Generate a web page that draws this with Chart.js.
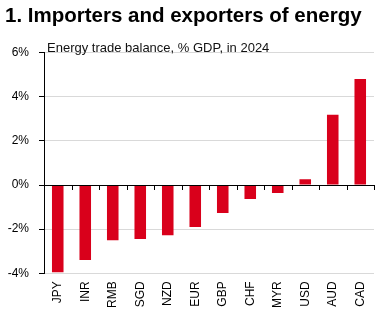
<!DOCTYPE html>
<html>
<head>
<meta charset="UTF-8">
<title>Importers and exporters of energy</title>
<script src="https://cdn.jsdelivr.net/npm/chart.js"></script>
<style>
  html, body { margin: 0; padding: 0; background: #fff; }
  #wrap { width: 388px; height: 325px; }
</style>
</head>
<body>
<div id="wrap"><canvas id="energyChart" width="388" height="325"></canvas></div>
<script>
// data
var currencies = ['JPY', 'INR', 'RMB', 'SGD', 'NZD', 'EUR', 'GBP', 'CHF', 'MYR', 'USD', 'AUD', 'CAD'];
var tradeBalance = [-3.95, -3.4, -2.5, -2.45, -2.27, -1.9, -1.27, -0.63, -0.36, 0.26, 3.18, 4.8];
var yTicks = [-4, -2, 0, 2, 4, 6];

var FONT = "Arial, 'Liberation Sans', sans-serif";

// zero line + small tick marks between categories, and the subtitle inside the plot
var axisExtras = {
    id: 'axisExtras',
    afterDraw: function(chart) {
        var ctx = chart.ctx;
        var area = chart.chartArea;
        var x = chart.scales.x;
        var y0 = Math.round(chart.scales.y.getPixelForValue(0));
        var step = x.getPixelForValue(1) - x.getPixelForValue(0);
        ctx.save();
        ctx.strokeStyle = '#000';
        ctx.lineWidth = 1;
        ctx.beginPath();
        ctx.moveTo(area.left, y0 + 0.5);
        ctx.lineTo(area.right, y0 + 0.5);
        for (var i = 0; i < currencies.length; i++) {
            var px = Math.round(x.getPixelForValue(i) + step / 2) + 0.5;
            ctx.moveTo(px, y0);
            ctx.lineTo(px, y0 + 5);
        }
        ctx.stroke();

        ctx.fillStyle = '#111';
        ctx.font = '13px ' + FONT;
        ctx.textBaseline = 'alphabetic';
        ctx.textAlign = 'left';
        ctx.fillText('Energy trade balance, % GDP, in 2024', area.left + 3, area.top - 1);
        ctx.restore();
    }
};

var ctx = document.getElementById('energyChart').getContext('2d');
new Chart(ctx, {
    type: 'bar',
    data: {
        labels: currencies,
        datasets: [{
            data: tradeBalance,
            backgroundColor: '#d9001b',
            borderWidth: 0,
            barPercentage: 0.42,
            categoryPercentage: 1
        }]
    },
    options: {
        responsive: false,
        animation: false,
        layout: { padding: { left: 5, right: 14, top: 2, bottom: 9 } },
        plugins: {
            legend: { display: false },
            tooltip: { enabled: false },
            title: {
                display: true,
                text: '1. Importers and exporters of energy',
                align: 'start',
                color: '#000',
                font: { family: FONT, size: 20.5, weight: 'bold' },
                padding: { top: 2, bottom: 24 }
            }
        },
        scales: {
            x: {
                grid: { display: false, drawTicks: false },
                border: { display: false },
                ticks: {
                    color: '#000',
                    font: { family: FONT, size: 12 },
                    minRotation: 90,
                    maxRotation: 90,
                    padding: 8
                }
            },
            y: {
                min: -4,
                max: 6,
                afterBuildTicks: function(scale) {
                    scale.ticks = yTicks.map(function(v) { return { value: v }; });
                },
                afterFit: function(scale) { scale.width = 39; },
                border: { display: true, color: '#000', width: 1 },
                grid: {
                    color: function(c) { return c.tick && c.tick.value === 0 ? 'rgba(0,0,0,0)' : '#d9d9d9'; },
                    tickColor: '#000',
                    tickLength: 5
                },
                ticks: {
                    color: '#000',
                    font: { family: FONT, size: 12 },
                    padding: 10,
                    callback: function(v) { return v + '%'; }
                }
            }
        }
    },
    plugins: [axisExtras]
});
</script>
</body>
</html>
